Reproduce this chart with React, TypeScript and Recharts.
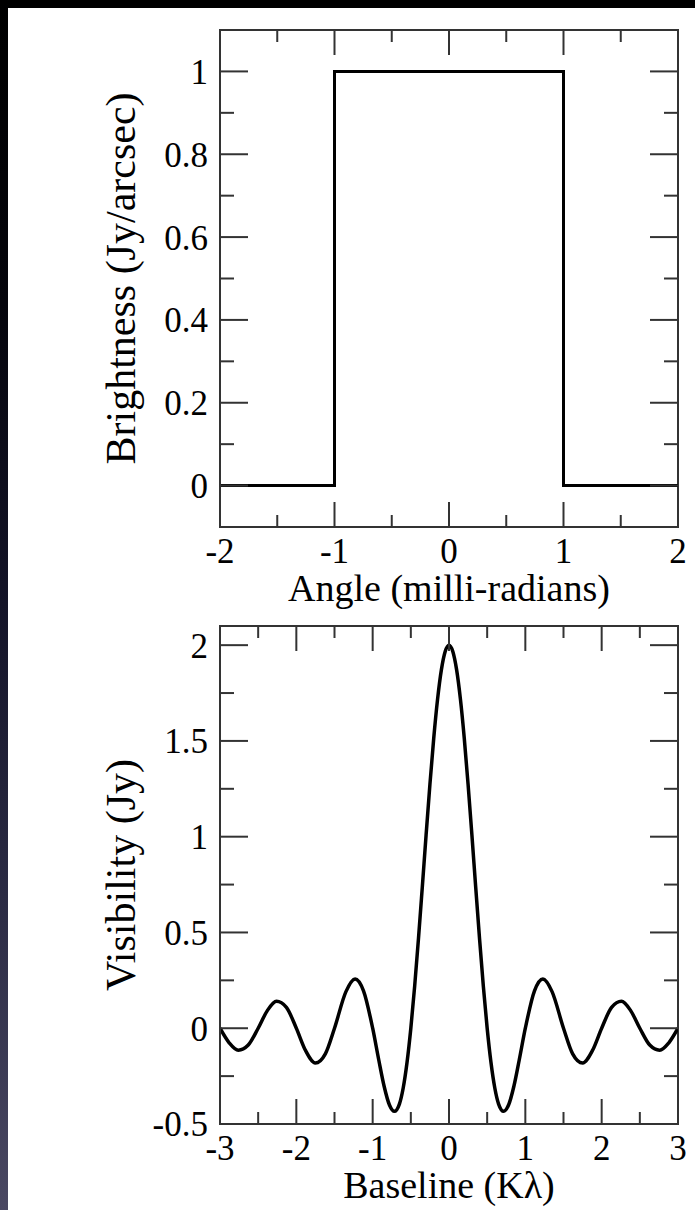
import React from "react";
import { LineChart, Line, XAxis, YAxis, ReferenceLine } from "recharts";

const FONT = "'Liberation Serif', 'Times New Roman', Times, serif";
const INK = "#000";
const FRAME = "#333";

// top panel: brightness of a uniform source 2 milli-radians wide
const angle = [-2, -1, -1, 1, 1, 2];
const brightness = [0, 0, 1, 1, 0, 0];
const angleMajor = [-2, -1, 0, 1, 2];
const angleMinor = [-1.5, -0.5, 0.5, 1.5];
const brightMajor = [0, 0.2, 0.4, 0.6, 0.8, 1];
const brightMinor = [0.1, 0.3, 0.5, 0.7, 0.9];

// bottom panel: visibility vs baseline
const baseline = [
  -3, -2.88, -2.76, -2.63, -2.5, -2.38, -2.26, -2.13, -2, -1.88, -1.75, -1.62,
  -1.5, -1.35, -1.23, -1.12, -1, -0.92, -0.85, -0.78, -0.715, -0.65, -0.6,
  -0.55, -0.5, -0.45, -0.4, -0.35, -0.3, -0.25, -0.2, -0.15, -0.1, -0.05, 0,
  0.05, 0.1, 0.15, 0.2, 0.25, 0.3, 0.35, 0.4, 0.45, 0.5, 0.55, 0.6, 0.65,
  0.715, 0.78, 0.85, 0.92, 1, 1.12, 1.23, 1.35, 1.5, 1.62, 1.75, 1.88, 2,
  2.13, 2.26, 2.38, 2.5, 2.63, 2.76, 2.88, 3,
];
const visibility = [
  0, -0.076, -0.115, -0.088, 0, 0.092, 0.141, 0.109, 0, -0.116, -0.182, -0.134,
  0, 0.191, 0.257, 0.195, 0, -0.166, -0.303, -0.401, -0.434, -0.396, -0.312,
  -0.179, 0, 0.219, 0.468, 0.736, 1.009, 1.273, 1.514, 1.717, 1.871, 1.967, 2,
  1.967, 1.871, 1.717, 1.514, 1.273, 1.009, 0.736, 0.468, 0.219, 0, -0.179,
  -0.312, -0.396, -0.434, -0.401, -0.303, -0.166, 0, 0.195, 0.257, 0.191, 0,
  -0.134, -0.182, -0.116, 0, 0.109, 0.141, 0.092, 0, -0.088, -0.115, -0.076, 0,
];
const baseMajor = [-3, -2, -1, 0, 1, 2, 3];
const baseMinor = [-2.5, -1.5, -0.5, 0.5, 1.5, 2.5];
const visMajor = [-0.5, 0, 0.5, 1, 1.5, 2];
const visMinor = [-0.25, 0.25, 0.75, 1.25, 1.75];

const topData = angle.map((a, i) => ({ a, b: brightness[i] }));
const bottomData = baseline.map((u, i) => ({ u, v: visibility[i] }));

const CHART_W = 695;
const LEFT_W = 220;
const RIGHT_M = 17;
const PLOT_W = CHART_W - LEFT_W - RIGHT_M;

const X_MAJOR = 25;
const X_MINOR = 12;
const Y_MAJOR = 28;
const Y_MINOR = 14;
const X_GAP = 11;
const Y_GAP = 12;
const TICK_FONT = 35;
const X_TITLE_FONT = 38;
const Y_TITLE_FONT = 42;

const frameLine = { stroke: FRAME, strokeWidth: 2, strokeLinecap: "square" as const };

// bottom labels + inward ticks on bottom and top edges
const xTick = (major: number[], plotH: number) => (p: any) => {
  const v = p.payload.value;
  const big = major.includes(v);
  const len = big ? X_MAJOR : X_MINOR;
  const base = p.y - X_GAP;
  const top = base - plotH;
  return (
    <g>
      <line x1={p.x} x2={p.x} y1={base} y2={base - len} stroke={FRAME} strokeWidth={2} />
      <line x1={p.x} x2={p.x} y1={top} y2={top + len} stroke={FRAME} strokeWidth={2} />
      {big && (
        <text x={p.x} y={p.y} dy="0.71em" textAnchor="middle" fontSize={TICK_FONT} fontFamily={FONT} fill={INK}>
          {v}
        </text>
      )}
    </g>
  );
};

// left labels + inward ticks on left and right edges
const yTick = (major: number[]) => (p: any) => {
  const v = p.payload.value;
  const big = major.includes(v);
  const len = big ? Y_MAJOR : Y_MINOR;
  const base = p.x + Y_GAP;
  const right = base + PLOT_W;
  return (
    <g>
      <line x1={base} x2={base + len} y1={p.y} y2={p.y} stroke={FRAME} strokeWidth={2} />
      <line x1={right} x2={right - len} y1={p.y} y2={p.y} stroke={FRAME} strokeWidth={2} />
      {big && (
        <text x={p.x} y={p.y} dy="0.355em" textAnchor="end" fontSize={TICK_FONT} fontFamily={FONT} fill={INK}>
          {v}
        </text>
      )}
    </g>
  );
};

function XTitle(props: any) {
  const vb = props.viewBox || {};
  return (
    <text x={vb.x + vb.width / 2} y={vb.y + 74} textAnchor="middle" fontSize={X_TITLE_FONT} fontFamily={FONT} fill={INK}>
      {props.text}
    </text>
  );
}

function YTitle(props: any) {
  const vb = props.viewBox || {};
  const x = vb.x + 135;
  const y = vb.y + vb.height / 2;
  return (
    <text x={x} y={y} transform={`rotate(-90, ${x}, ${y})`} textAnchor="middle" fontSize={Y_TITLE_FONT} fontFamily={FONT} fill={INK}>
      {props.text}
    </text>
  );
}

function Panel(props: {
  data: any[];
  xKey: string;
  yKey: string;
  height: number;
  top: number;
  axisHeight: number;
  xDomain: [number, number];
  yDomain: [number, number];
  xMajor: number[];
  xMinor: number[];
  yMajor: number[];
  yMinor: number[];
  xTitle: string;
  yTitle: string;
  curve: "linear" | "monotone";
  strokeWidth: number;
}) {
  const plotH = props.height - props.top - props.axisHeight;
  return (
    <LineChart width={CHART_W} height={props.height} data={props.data} margin={{ top: props.top, right: RIGHT_M, left: 0, bottom: 0 }}>
      <XAxis
        xAxisId="x"
        dataKey={props.xKey}
        type="number"
        domain={props.xDomain}
        allowDataOverflow
        ticks={[...props.xMajor, ...props.xMinor]}
        interval={0}
        height={props.axisHeight}
        tickSize={0}
        tickMargin={X_GAP}
        tickLine={false}
        axisLine={frameLine}
        tick={xTick(props.xMajor, plotH)}
        label={<XTitle text={props.xTitle} />}
      />
      <YAxis
        yAxisId="y"
        type="number"
        domain={props.yDomain}
        allowDataOverflow
        ticks={[...props.yMajor, ...props.yMinor]}
        interval={0}
        width={LEFT_W}
        tickSize={0}
        tickMargin={Y_GAP}
        tickLine={false}
        axisLine={frameLine}
        tick={yTick(props.yMajor)}
        label={<YTitle text={props.yTitle} />}
      />
      <ReferenceLine xAxisId="x" yAxisId="y" y={props.yDomain[1]} ifOverflow="visible" stroke={FRAME} strokeWidth={2} strokeLinecap="square" />
      <ReferenceLine xAxisId="x" yAxisId="y" x={props.xDomain[1]} ifOverflow="visible" stroke={FRAME} strokeWidth={2} strokeLinecap="square" />
      <Line
        xAxisId="x"
        yAxisId="y"
        dataKey={props.yKey}
        type={props.curve}
        stroke={INK}
        strokeWidth={props.strokeWidth}
        dot={false}
        activeDot={false}
        isAnimationActive={false}
      />
    </LineChart>
  );
}

export default function App() {
  return (
    <div style={{ position: "absolute", left: 0, top: 0, width: 695, height: 1210, background: "#000", overflow: "hidden" }}>
      <div
        style={{
          position: "absolute",
          left: 0,
          top: 0,
          width: 8,
          height: 1210,
          background: "linear-gradient(to bottom, #000 0%, #05050c 25%, #141428 50%, #2c2c45 75%, #4a4862 100%)",
        }}
      />
      <div style={{ position: "absolute", left: 8, top: 8, width: 687, height: 1202, background: "#fff" }} />
      <div style={{ position: "absolute", left: 0, top: 0 }}>
        <Panel
          data={topData}
          xKey="a"
          yKey="b"
          height={610}
          top={30}
          axisHeight={83}
          xDomain={[-2, 2]}
          yDomain={[-0.1, 1.1]}
          xMajor={angleMajor}
          xMinor={angleMinor}
          yMajor={brightMajor}
          yMinor={brightMinor}
          xTitle="Angle (milli-radians)"
          yTitle="Brightness (Jy/arcsec)"
          curve="linear"
          strokeWidth={3}
        />
      </div>
      <div style={{ position: "absolute", left: 0, top: 610 }}>
        <Panel
          data={bottomData}
          xKey="u"
          yKey="v"
          height={600}
          top={16}
          axisHeight={86}
          xDomain={[-3, 3]}
          yDomain={[-0.5, 2.1]}
          xMajor={baseMajor}
          xMinor={baseMinor}
          yMajor={visMajor}
          yMinor={visMinor}
          xTitle="Baseline (Kλ)"
          yTitle="Visibility (Jy)"
          curve="monotone"
          strokeWidth={3.5}
        />
      </div>
    </div>
  );
}
